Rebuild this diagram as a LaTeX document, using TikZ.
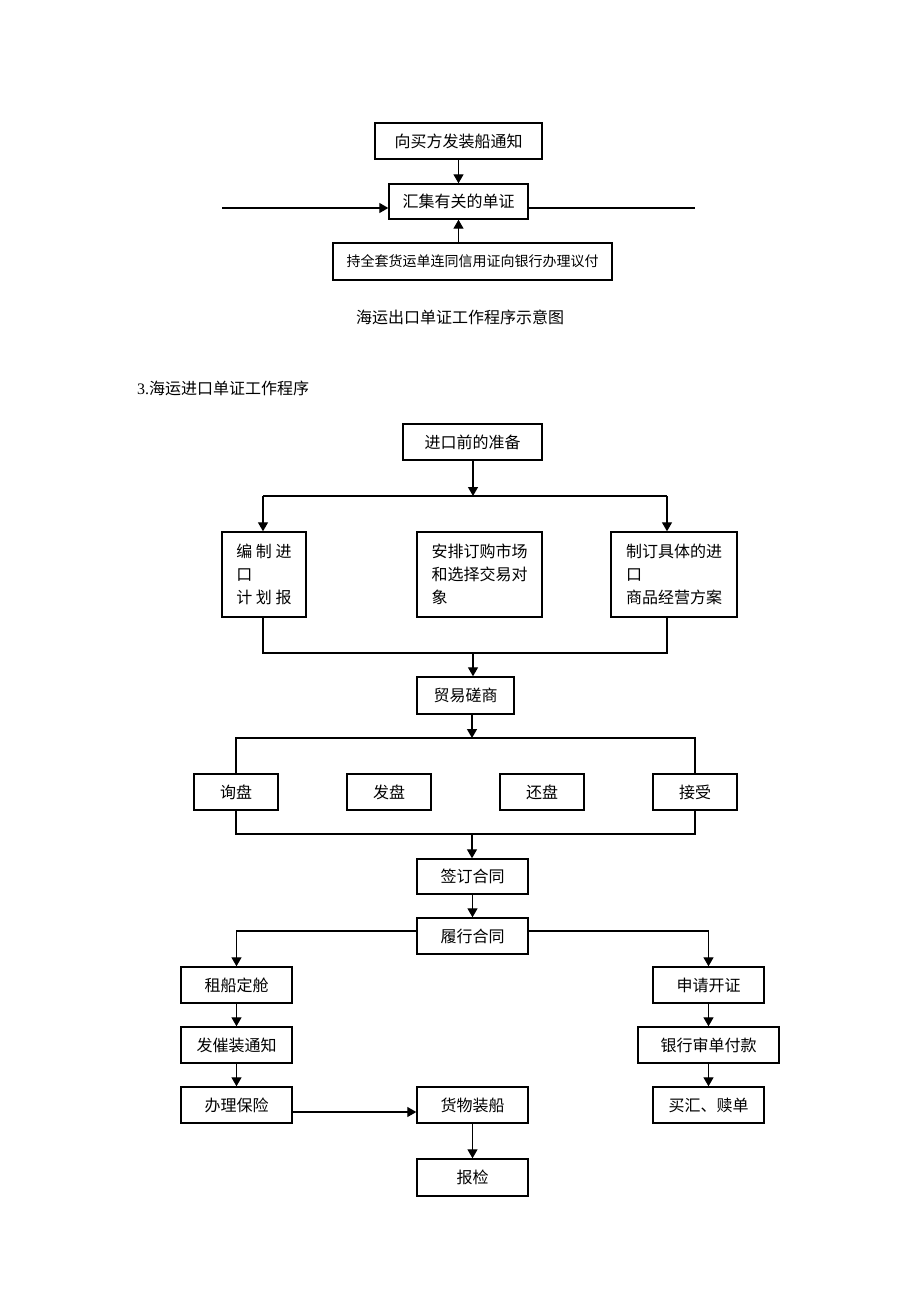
\documentclass[tikz,border=0pt]{standalone}
\usepackage{fontspec}
\setmainfont{Liberation Serif}
\newfontfamily\cjk{Noto Sans CJK SC}
\usetikzlibrary{arrows.meta,positioning}

\begin{document}
\begin{tikzpicture}[x=1pt,y=-1pt,
% Box style
    box/.style={draw,line width=1.4pt,inner sep=0pt,minimum height=36pt,
		font=\cjk\fontsize{16}{23}\selectfont},
    small/.style={box,font=\cjk\fontsize{14}{14}\selectfont},
    tall/.style={box,align=left,minimum height=85pt},
% Text style
    title/.style={inner sep=0pt,font=\cjk\fontsize{16}{16}\selectfont},
% Connector style
    line/.style={line width=1.3pt},
    arr/.style={line,-{Triangle[length=9pt,width=10pt]}}
    ]
\useasboundingbox (0,0) rectangle (920,1302);
%% Export part
    \node (notice) [box,minimum width=167pt] at (458.5,141) {向买方发装船通知};
    \node (gather) [box,minimum width=139pt,minimum height=35pt] at (458.5,201.5) {汇集有关的单证};
    \node (docs) [small,minimum width=279pt,minimum height=37pt] at (472.5,261.5) {持全套货运单连同信用证向银行办理议付};
    \node (cap1) [title] at (460,317) {海运出口单证工作程序示意图};
    \coordinate (inl) at (222,208);
    \coordinate (outr) at (695,208);
    \draw[arr] (notice) -- (gather);
    \draw[arr] (docs.north -| gather.south) -- (gather.south);
    \draw[arr] (inl) -- (inl -| gather.west);
    \draw[line] (gather.east |- outr) -- (outr);

%% Import part
    \node (head) [inner sep=0pt,anchor=west,font=\fontsize{16}{16}\selectfont] at (137,388)
		{3.{\cjk 海运进口单证工作程序}};
    \node (prep) [box,minimum width=139pt] at (472.5,442) {进口前的准备};
    \node (plan) [tall,minimum width=84pt] at (264,574.5) {编 制 进\\口\\计 划 报};
    \node (market) [tall,minimum width=125pt] at (479.5,574.5) {安排订购市场\\和选择交易对\\象};
    \node (scheme) [tall,minimum width=126pt] at (674,574.5) {制订具体的进\\口\\商品经营方案};
    \node (talk) [box,minimum width=97pt,minimum height=37pt] at (465.5,695.5) {贸易磋商};
    \node (ask) [box,minimum width=84pt] at (236,792) {询盘};
    \node (offer) [box,minimum width=84pt] at (389,792) {发盘};
    \node (counter) [box,minimum width=84pt] at (542,792) {还盘};
    \node (accept) [box,minimum width=84pt] at (695,792) {接受};
    \node (sign) [box,minimum width=111pt,minimum height=35pt] at (472.5,876.5) {签订合同};
    \node (perform) [box,minimum width=111pt] at (472.5,936) {履行合同};
    \node (charter) [box,minimum width=111pt] at (236.5,985) {租船定舱};
    \node (urge) [box,minimum width=111pt] at (236.5,1045) {发催装通知};
    \node (insure) [box,minimum width=111pt] at (236.5,1105) {办理保险};
    \node (load) [box,minimum width=111pt] at (472.5,1105) {货物装船};
    \node (inspect) [box,minimum width=111pt,minimum height=37pt] at (472.5,1177.5) {报检};
    \node (apply) [box,minimum width=111pt] at (708.5,985) {申请开证};
    \node (pay) [box,minimum width=141pt] at (708.5,1045) {银行审单付款};
    \node (redeem) [box,minimum width=111pt] at (708.5,1105) {买汇、赎单};

%% Branch lines
    \coordinate (b1l) at (263,496);
    \coordinate (b1m) at (473,496);
    \coordinate (b1r) at (667,496);
    \coordinate (b2l) at (263,653);
    \coordinate (b2m) at (473,653);
    \coordinate (b2r) at (667,653);
    \coordinate (b3m) at (472,738);
    \coordinate (b3r) at (695,738);
    \coordinate (b4m) at (472,834);
    \coordinate (b4r) at (695,834);

    \draw[arr] (prep.south -| b1m) -- (b1m);
    \draw[line] (b1l) -- (b1r);
    \draw[arr] (b1l) -- (b1l |- plan.north);
    \draw[arr] (b1r) -- (b1r |- scheme.north);
    \draw[line] (b2l |- plan.south) -- (b2l) -- (b2r) -- (b2r |- scheme.south);
    \draw[arr] (b2m) -- (b2m |- talk.north);
    \draw[arr] (b3m |- talk.south) -- (b3m);
    \draw[line] (ask.north) |- (b3r) -- (accept.north);
    \draw[line] (ask.south) |- (b4r) -- (accept.south);
    \draw[arr] (b4m) -- (b4m |- sign.north);
    \draw[arr] (sign) -- (perform);
    \draw[arr] ([yshift=5pt]perform.west) -| (charter.north);
    \draw[arr] ([yshift=5pt]perform.east) -| (apply.north);
    \draw[arr] (charter) -- (urge);
    \draw[arr] (urge) -- (insure);
    \draw[arr] ([yshift=-7pt]insure.east) -- ([yshift=-7pt]load.west);
    \draw[arr] (load) -- (inspect);
    \draw[arr] (apply) -- (pay);
    \draw[arr] (pay) -- (redeem);

\end{tikzpicture}
\end{document}
